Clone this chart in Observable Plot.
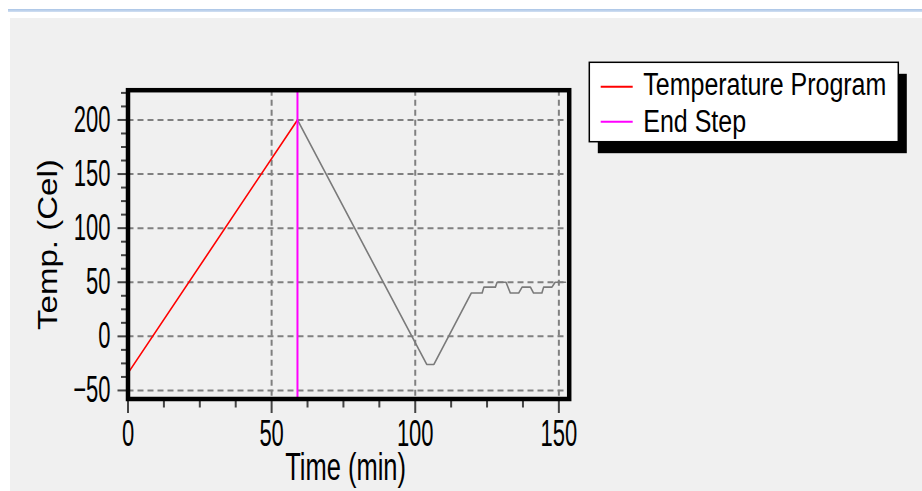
<!DOCTYPE html>
<html><head><meta charset="utf-8">
<script src="https://cdn.jsdelivr.net/npm/d3@7"></script>
<script src="https://cdn.jsdelivr.net/npm/@observablehq/plot@0.6"></script>
<style>
html,body{margin:0;padding:0;background:#fff;width:922px;height:491px;overflow:hidden;font-family:"Liberation Sans",Arial,sans-serif;}
#topline{position:absolute;left:8px;top:9px;width:914px;height:3px;background:linear-gradient(#a9c4e6,#d2e0f2);}
#panel{position:absolute;left:10px;top:18px;right:0;bottom:0;background:#f0f0f0;}
#chart{position:absolute;left:0;top:0;}
#legend{position:absolute;left:580px;top:50px;}
</style>
</head><body>
<div id="topline"></div>
<div id="panel"></div>
<div id="chart"></div>
<svg id="legend" width="340" height="110"></svg>
<script>
// ---- data ----
const programTime = [0, 59];
const programTemp = [-34, 200];
const coolTime = [59, 104, 106.5, 119.5, 123.3, 123.9, 127.9, 128.5, 131.6, 133.1, 136.0, 137.2, 140.1, 141.2, 144.1, 144.7, 147.6, 148.7, 152.3];
const coolTemp = [200, -26, -26, 40, 40, 45.5, 45.5, 50, 50, 40, 40, 45.5, 45.5, 40, 40, 45.5, 45.5, 50, 50];
const endStepTime = [59];
const xTicks = [0, 50, 100, 150];
const xMinorTicks = [12.5, 25, 37.5, 62.5, 75, 87.5, 112.5, 125, 137.5];
const yTicks = [-50, 0, 50, 100, 150, 200];
const yMinorTicks = [-37.5, -25, -12.5, 12.5, 25, 37.5, 62.5, 75, 87.5, 112.5, 125, 137.5, 162.5, 175, 187.5, 212.5, 225];
const xLabel = "Time (min)";
const yLabel = "Temp. (Cel)";
const legendNames = ["Temperature Program", "End Step"];
const legendColors = ["#ff0000", "#ff00ff"];

const program = programTime.map((t, i) => ({t, v: programTemp[i]}));
const cool = coolTime.map((t, i) => ({t, v: coolTemp[i]}));

const gridStyle = {stroke: "#808080", strokeWidth: 2, strokeDasharray: "6,4"};

const chart = Plot.plot({
  width: 922, height: 491,
  marginLeft: 127.5, marginRight: 353.3, marginTop: 89.7, marginBottom: 92.5,
  x: {domain: [0, 153.6], label: null},
  y: {domain: [-57.9, 227.5], label: null},
  style: {background: "transparent", fontFamily: "'Liberation Sans', Arial, sans-serif", overflow: "visible", color: "black"},
  marks: [
    Plot.ruleX(xTicks, gridStyle),
    Plot.ruleY(yTicks, gridStyle),
    Plot.line(cool, {x: "t", y: "v", stroke: "#7a7a7a", strokeWidth: 1.6}),
    Plot.line(program, {x: "t", y: "v", stroke: "#ff0000", strokeWidth: 1.6}),
    Plot.ruleX(endStepTime, {stroke: "#ff00ff", strokeWidth: 2}),
    Plot.axisX({ticks: xMinorTicks, tickSize: 9, tickFormat: () => "", label: null, stroke: "#444", strokeWidth: 2}),
    Plot.axisX({ticks: xTicks, tickSize: 14.5, tickPadding: 6, fontSize: 22, label: null, stroke: "#444", strokeWidth: 2, fill: "black"}),
    Plot.axisY({ticks: yMinorTicks, tickSize: 6.5, tickFormat: () => "", label: null, stroke: "#444", strokeWidth: 2}),
    Plot.axisY({ticks: yTicks, tickSize: 10, tickPadding: 7.5, fontSize: 22, label: null, stroke: "#444", strokeWidth: 2, fill: "black"}),
    Plot.frame({stroke: "black", strokeWidth: 4.5}),
    Plot.text([xLabel], {frameAnchor: "bottom", dy: 53.5, dx: -3, lineAnchor: "top", textAnchor: "middle", fontSize: 25.5, fill: "black", ariaLabel: () => "xlabel"}),
    Plot.text([yLabel], {frameAnchor: "left", dx: -79.5, rotate: -90, lineAnchor: "middle", textAnchor: "middle", fontSize: 28, fill: "black", ariaLabel: () => "ylabel"})
  ]
});
document.getElementById("chart").appendChild(chart);

function num(v) { if (!v || /em$/.test(v)) return 0; return parseFloat(v) || 0; }
function stretchEl(el, kx, ky) {
  const t = el.getAttribute("transform") || "";
  const x = num(el.getAttribute("x")), y = num(el.getAttribute("y"));
  el.setAttribute("transform", `${t} translate(${x},${y}) scale(${kx},${ky}) translate(${-x},${-y})`);
}
function stretch(root, sel, kx, ky) {
  const done = new Set();
  root.querySelectorAll(sel).forEach(node => {
    const list = node.tagName.toLowerCase() === "text" ? [node] : Array.from(node.querySelectorAll("text"));
    list.forEach(el => { if (!done.has(el)) { done.add(el); stretchEl(el, kx, ky); } });
  });
}
stretch(chart, '[aria-label="x-axis tick label"]', 1, 1.7);
stretch(chart, '[aria-label="y-axis tick label"]', 1, 1.68);
stretch(chart, '[aria-label="xlabel"]', 1, 1.52);
stretch(chart, '[aria-label="ylabel"]', 1.18, 1);

// ---- legend ----
const lg = d3.select("#legend");
lg.append("rect").attr("x", 17.8).attr("y", 23.8).attr("width", 309).attr("height", 79.4).attr("fill", "black");
lg.append("rect").attr("x", 9.3).attr("y", 12.3).attr("width", 309).attr("height", 79.4).attr("fill", "white").attr("stroke", "black").attr("stroke-width", 1.5);
const rows = [{ly: 36.7, ty: 45}, {ly: 71.7, ty: 81.7}];
legendNames.forEach((name, i) => {
  lg.append("line").attr("x1", 20.7).attr("x2", 52.7).attr("y1", rows[i].ly).attr("y2", rows[i].ly)
    .attr("stroke", legendColors[i]).attr("stroke-width", 2);
  lg.append("text").attr("transform", `translate(63.3,${rows[i].ty}) scale(1,1.25)`)
    .attr("font-family", "'Liberation Sans', Arial, sans-serif").attr("font-size", 25).attr("fill", "black").text(name);
});
</script>
</body></html>
